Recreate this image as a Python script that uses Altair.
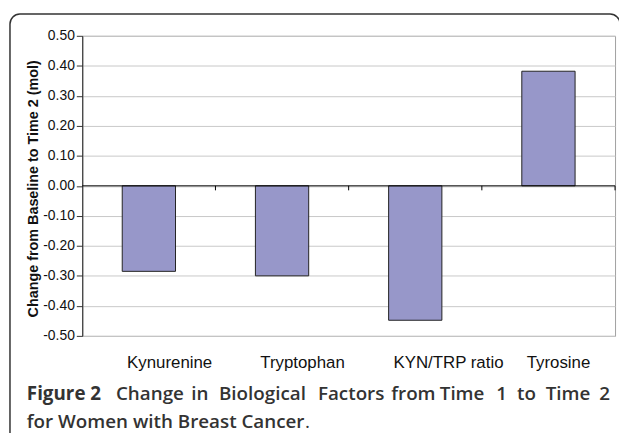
import altair as alt
import pandas as pd

categories = ["Kynurenine", "Tryptophan", "KYN/TRP ratio", "Tyrosine"]
values = [-0.285, -0.30, -0.448, 0.382]
y_ticks = [-0.5, -0.4, -0.3, -0.2, -0.1, 0.0, 0.1, 0.2, 0.3, 0.4, 0.5]
boundaries = [1, 2, 3, 4]
y_title = "Change from Baseline to Time 2 (mol)"
cap_line1_words = ["Figure 2", "Change", "in", "Biological", "Factors", "from",
                   "Time", "1", "to", "Time", "2"]
cap_line2 = "for Women with Breast Cancer"
cap_end = "."

# caption layout (justified line; pixel offsets from the plot origin)
line1_x = [-56, 34, 110, 138, 238, 312, 361, 418, 439, 468, 522]

df = pd.DataFrame({"cat": categories, "val": values})
bdf = pd.DataFrame({"b": boundaries})
one = pd.DataFrame({"a": [0]})

W, H = 538, 303
FONT = "Liberation Sans"

yscale = alt.Scale(domain=[-0.5, 0.5], nice=False, zero=False)
xenc = alt.X("cat:N", sort=categories,
             scale=alt.Scale(type="band", paddingInner=0.6, paddingOuter=0.3),
             axis=None)

bars = alt.Chart(df).mark_bar(
    color="#9797c9", stroke="#222222", strokeWidth=1
).encode(
    x=xenc,
    y=alt.Y("val:Q", scale=yscale,
            axis=alt.Axis(values=y_ticks, tickCount=11, labelOverlap=False,
                          labelExpr="(datum.value < -0.001 ? '-' : '') + format(abs(datum.value), '.2f')",
                          labelFont=FONT, labelFontSize=14, labelColor="#111111",
                          labelPadding=2, tickSize=6, tickColor="#333333",
                          domainColor="#222222", gridColor="#c8c8c8",
                          title=y_title, titleFont=FONT, titleFontSize=14.5,
                          titleFontWeight="bold", titleColor="#111111",
                          titleX=-42, titleY=154)),
    y2=alt.datum(0),
)

xlabels = alt.Chart(df).mark_text(
    align="left", baseline="alphabetic", dx=-22, font=FONT, fontSize=17,
    color="#111111"
).encode(x=xenc, y=alt.value(335), text="cat:N")

zero = alt.Chart(one).mark_rule(color="#000000", strokeWidth=1).encode(
    y=alt.datum(0, scale=yscale)
)

ticks = alt.Chart(bdf).mark_rule(color="#000000", strokeWidth=1).encode(
    x=alt.X("b:Q", scale=alt.Scale(domain=[0, 4], nice=False), axis=None),
    y=alt.datum(0),
    y2=alt.datum(-0.015),
)

frame = alt.Chart(one).mark_rect(
    fill=None, filled=False, stroke="#333333", strokeWidth=1.5, cornerRadius=10
).encode(
    x=alt.value(-73), x2=alt.value(543), y=alt.value(-22), y2=alt.value(440)
)

def cap(text, x, y, weight, align="left"):
    return alt.Chart(one).mark_text(
        text=text, align=align, baseline="alphabetic", font="Open Sans",
        fontSize=19, fontWeight=weight, color="#333333"
    ).encode(x=alt.value(x), y=alt.value(y))

captions = []
for i, (t, x) in enumerate(zip(cap_line1_words, line1_x)):
    captions.append(cap(t, x, 368, "bold" if i == 0 else 600))
captions.append(cap(cap_line2, -56, 396, 600))
captions.append(cap(cap_end, 225, 396, "normal"))

main = alt.layer(bars, xlabels)

chart = alt.layer(frame, main, zero, ticks, *captions).resolve_scale(
    x="independent"
).properties(
    width=W, height=H,
    autosize=alt.AutoSizeParams(type="none"),
    padding={"left": 75, "top": 26, "right": 4, "bottom": 96},
).configure_view(stroke="#a0a0a0", strokeWidth=1)

chart.save("out.html", embed_options={"renderer": "svg", "actions": False})
